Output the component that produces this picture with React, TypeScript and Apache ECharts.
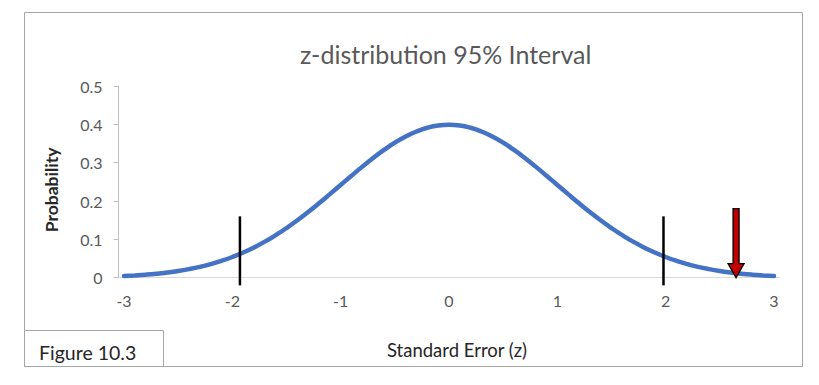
import React, { useEffect, useRef } from "react";
import * as echarts from "echarts";

const zCategories = [
  -3, -2.9, -2.8, -2.7, -2.6, -2.5, -2.4, -2.3, -2.2, -2.1,
  -2, -1.9, -1.8, -1.7, -1.6, -1.5, -1.4, -1.3, -1.2, -1.1,
  -1, -0.9, -0.8, -0.7, -0.6, -0.5, -0.4, -0.3, -0.2, -0.1,
  0, 0.1, 0.2, 0.3, 0.4, 0.5, 0.6, 0.7, 0.8, 0.9,
  1, 1.1, 1.2, 1.3, 1.4, 1.5, 1.6, 1.7, 1.8, 1.9,
  2, 2.1, 2.2, 2.3, 2.4, 2.5, 2.6, 2.7, 2.8, 2.9, 3,
];

const probability = [
  0.0044, 0.006, 0.0079, 0.0104, 0.0136, 0.0175, 0.0224, 0.0283, 0.0355, 0.044,
  0.054, 0.0656, 0.079, 0.094, 0.1109, 0.1295, 0.1497, 0.1714, 0.1942, 0.2179,
  0.242, 0.2661, 0.2897, 0.3123, 0.3332, 0.3521, 0.3683, 0.3814, 0.391, 0.397,
  0.3989, 0.397, 0.391, 0.3814, 0.3683, 0.3521, 0.3332, 0.3123, 0.2897, 0.2661,
  0.242, 0.2179, 0.1942, 0.1714, 0.1497, 0.1295, 0.1109, 0.094, 0.079, 0.0656,
  0.054, 0.044, 0.0355, 0.0283, 0.0224, 0.0175, 0.0136, 0.0104, 0.0079, 0.006, 0.0044,
];

// critical value markers: [z, bottom, top]
const criticalLines = [
  [-1.93, -0.02, 0.16],
  [1.98, -0.02, 0.16],
];

// arrow: [z, top, tip]
const arrowMarks = [[2.65, 0.18, 0]];

const titleText = "z-distribution 95% Interval";
const xAxisName = "Standard Error (z)";
const yAxisName = "Probability";
const figureLabel = "Figure 10.3";

const FONT = "Lato, 'Open Sans', sans-serif";

export default function App() {
  const ref = useRef<HTMLDivElement>(null);

  useEffect(() => {
    if (!ref.current) return;
    const chart = echarts.init(ref.current, undefined, { renderer: "svg" });
    const option: any = {
      animation: false,
      backgroundColor: "#ffffff",
      textStyle: { fontFamily: FONT },
      title: {
        text: titleText,
        left: 295,
        top: 36,
        textStyle: { fontFamily: FONT, fontSize: 25, fontWeight: "normal", color: "#595959" },
      },
      grid: { left: 118.6, right: 39.6, top: 86, bottom: 107.3, containLabel: false },
      xAxis: [
        {
          type: "category",
          data: zCategories,
          boundaryGap: true,
          axisLine: { onZero: false, lineStyle: { color: "#d9d9d9", width: 1 } },
          axisTick: { show: false },
          axisLabel: {
            interval: 9,
            margin: 15,
            color: "#595959",
            fontSize: 16,
            fontFamily: FONT,
            formatter: (v: string) => String(Number(v)),
          },
          splitLine: { show: false },
          name: xAxisName,
          nameLocation: "middle",
          nameGap: 63,
          nameTextStyle: { fontFamily: FONT, fontSize: 18.5, color: "#262626", padding: [0, 0, 0, 16] },
        },
        {
          type: "value",
          min: -3.05,
          max: 3.05,
          show: false,
        },
      ],
      yAxis: {
        type: "value",
        min: 0,
        max: 0.5,
        interval: 0.1,
        axisLine: { show: true, onZero: false, lineStyle: { color: "#bfbfbf", width: 1 } },
        axisTick: { show: true, length: 5, lineStyle: { color: "#bfbfbf" } },
        axisLabel: { margin: 16, color: "#595959", fontSize: 16, fontFamily: FONT },
        splitLine: { show: false },
        name: yAxisName,
        nameLocation: "middle",
        nameGap: 58,
        nameRotate: 90,
        nameTextStyle: {
          fontFamily: FONT,
          fontSize: 17.5,
          fontWeight: "bold",
          color: "#262626",
          padding: [0, 16, 0, 0],
        },
      },
      graphic: [
        {
          type: "rect",
          shape: { x: 24.5, y: 12.5, width: 778, height: 354 },
          style: { fill: "none", stroke: "#a6a6a6", lineWidth: 1 },
          z: 0,
        },
        {
          type: "rect",
          shape: { x: 24.5, y: 330.5, width: 139, height: 36 },
          style: { fill: "#ffffff", stroke: "#a6a6a6", lineWidth: 1 },
          z: 10,
        },
        {
          type: "text",
          x: 39,
          y: 352,
          style: {
            text: figureLabel,
            fontFamily: FONT,
            fontSize: 19.5,
            fill: "#262626",
            verticalAlign: "middle",
          },
          z: 11,
        },
      ],
      series: [
        {
          type: "line",
          xAxisIndex: 0,
          data: probability,
          smooth: true,
          symbol: "none",
          lineStyle: { color: "#4472C4", width: 4.5, cap: "round" },
          z: 2,
        },
        {
          type: "custom",
          xAxisIndex: 1,
          data: criticalLines,
          encode: { x: 0, y: [1, 2] },
          clip: false,
          z: 3,
          renderItem: (_p: any, api: any) => {
            const x = api.value(0);
            const a = api.coord([x, api.value(1)]);
            const b = api.coord([x, api.value(2)]);
            return {
              type: "line",
              shape: { x1: a[0], y1: a[1], x2: b[0], y2: b[1] },
              style: { stroke: "#000000", lineWidth: 2.5 },
            };
          },
        },
        {
          type: "custom",
          xAxisIndex: 1,
          data: arrowMarks,
          encode: { x: 0, y: [1, 2] },
          clip: false,
          z: 4,
          renderItem: (_p: any, api: any) => {
            const x = api.value(0);
            const top = api.coord([x, api.value(1)]);
            const tip = api.coord([x, api.value(2)]);
            const cx = top[0];
            const sw = 3;
            const hw = 8;
            const hh = 14;
            const ty = top[1];
            const py = tip[1];
            return {
              type: "polygon",
              shape: {
                points: [
                  [cx - sw, ty],
                  [cx + sw, ty],
                  [cx + sw, py - hh],
                  [cx + hw, py - hh],
                  [cx, py],
                  [cx - hw, py - hh],
                  [cx - sw, py - hh],
                ],
              },
              style: { fill: "#C00000", stroke: "#000000", lineWidth: 1.3 },
            };
          },
        },
      ],
    };
    chart.setOption(option);
    return () => chart.dispose();
  }, []);

  return (
    <div
      ref={ref}
      style={{ position: "fixed", left: 0, top: 0, width: 819, height: 385, background: "#fff" }}
    />
  );
}
